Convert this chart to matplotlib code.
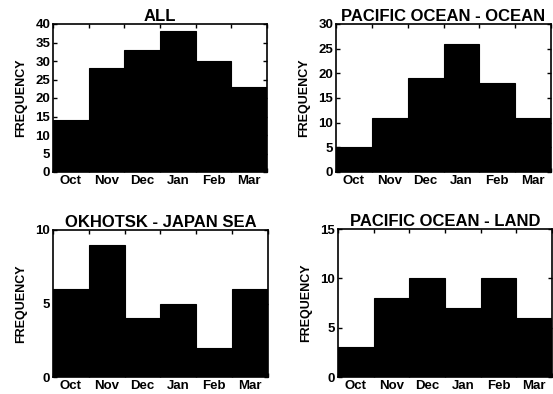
import matplotlib
matplotlib.use("Agg")
import matplotlib.pyplot as plt

plt.rcParams['font.family'] = ['Liberation Sans', 'DejaVu Sans']
plt.rcParams['font.weight'] = 'bold'

months = ["Oct", "Nov", "Dec", "Jan", "Feb", "Mar"]
all_counts = [14, 28, 33, 38, 30, 23]
pacific_ocean = [5, 11, 19, 26, 18, 11]
okhotsk_japan = [6, 9, 4, 5, 2, 6]
pacific_land = [3, 8, 10, 7, 10, 6]

panels = [
    ("ALL", all_counts, 40, 5, [53, 172, 214, 148]),
    ("PACIFIC OCEAN - OCEAN", pacific_ocean, 30, 5, [336, 172, 215, 148]),
    ("OKHOTSK - JAPAN SEA", okhotsk_japan, 10, 5, [53, 377, 215, 147]),
    ("PACIFIC OCEAN - LAND", pacific_land, 15, 5, [338, 377, 214, 148]),
]

W, H = 553, 394
fig = plt.figure(figsize=(W / 100, H / 100), dpi=100)

for title, vals, ymax, ystep, (x0, yb, w, h) in panels:
    ax = fig.add_axes([x0 / W, 1 - yb / H, w / W, h / H])
    x = list(range(len(months)))
    ax.bar(x, vals, width=1.0, color="black", edgecolor="black", linewidth=0.8)
    ax.set_xlim(-0.5, len(months) - 0.5)
    ax.set_ylim(0, ymax)
    ax.set_xticks(x)
    ax.set_xticklabels(months, fontsize=9.5, fontweight="bold")
    ax.set_xticks([i - 0.5 for i in range(len(months) + 1)], minor=True)
    ax.tick_params(axis="x", which="major", length=0, pad=2)
    ax.tick_params(axis="x", which="minor", direction="in", length=3,
                   top=True, bottom=True, width=1)
    ax.set_yticks(list(range(0, ymax + 1, ystep)))
    ax.tick_params(axis="y", direction="in", length=3, left=True, right=True,
                   labelsize=9.5, width=1, pad=2)
    for lab in ax.get_yticklabels():
        lab.set_fontweight("bold")
    ax.set_ylabel("FREQUENCY", fontsize=9, fontweight="bold", labelpad=6)
    ax.set_title(title, fontsize=12, fontweight="bold", pad=2)
    for s in ax.spines.values():
        s.set_linewidth(1.2)

fig.savefig("out.png", dpi=100)
